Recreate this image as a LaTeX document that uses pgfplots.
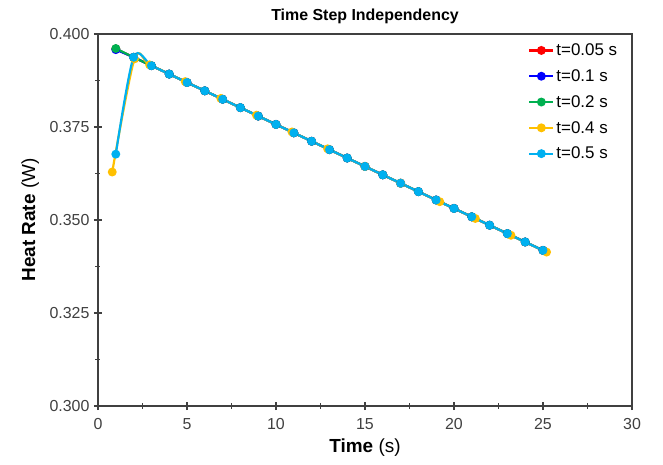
\documentclass[border=0pt]{standalone}
\usepackage{pgfplots}
\pgfplotsset{compat=1.18}
\usepackage{pgfplotstable}
\usepackage{fontspec}
\setmainfont{Liberation Sans}
\definecolor{cred}{HTML}{FF0000}
\definecolor{cblue}{HTML}{0000FF}
\definecolor{cgreen}{HTML}{00B050}
\definecolor{cyellow}{HTML}{FFC000}
\definecolor{ccyan}{HTML}{00B0F0}
\definecolor{axgray}{HTML}{404040}

\pgfplotstableread{
x y
1 0.39600
2 0.39374
3 0.39149
4 0.38923
5 0.38697
6 0.38472
7 0.38246
8 0.38020
9 0.37794
10 0.37569
11 0.37343
12 0.37117
13 0.36892
14 0.36666
15 0.36440
16 0.36214
17 0.35989
18 0.35763
19 0.35537
20 0.35312
21 0.35086
22 0.34860
23 0.34634
24 0.34409
25 0.34183
}\tred

\pgfplotstableread{
x y
1 0.39580
2 0.39374
3 0.39149
4 0.38923
5 0.38697
6 0.38472
7 0.38246
8 0.38020
9 0.37794
10 0.37569
11 0.37343
12 0.37117
13 0.36892
14 0.36666
15 0.36440
16 0.36214
17 0.35989
18 0.35763
19 0.35537
20 0.35312
21 0.35086
22 0.34860
23 0.34634
24 0.34409
25 0.34183
}\tblue

\pgfplotstableread{
x y
1 0.39610
2 0.39374
3 0.39149
4 0.38923
5 0.38697
6 0.38472
7 0.38246
8 0.38020
9 0.37794
10 0.37569
11 0.37343
12 0.37117
13 0.36892
14 0.36666
15 0.36440
16 0.36214
17 0.35989
18 0.35763
19 0.35537
20 0.35312
21 0.35086
22 0.34860
23 0.34634
24 0.34409
25 0.34183
}\tgreen

\pgfplotstableread{
x y
0.8 0.36290
2.05 0.39330
2.9 0.39171
4.9 0.38720
6.9 0.38268
8.9 0.37817
10.9 0.37366
12.9 0.36914
15.0 0.36440
17.0 0.35989
19.2 0.35492
21.2 0.35041
23.2 0.34589
25.2 0.34138
}\tyellow

\pgfplotstableread{
x y
1 0.36770
2 0.39374
3 0.39149
4 0.38923
5 0.38697
6 0.38472
7 0.38246
8 0.38020
9 0.37794
10 0.37569
11 0.37343
12 0.37117
13 0.36892
14 0.36666
15 0.36440
16 0.36214
17 0.35989
18 0.35763
19 0.35537
20 0.35312
21 0.35086
22 0.34860
23 0.34634
24 0.34409
25 0.34183
}\tcyan

\begin{document}
\begin{tikzpicture}
\begin{axis}[
  scale only axis,
  width=534bp, height=372bp,
  xmin=0, xmax=30, ymin=0.300, ymax=0.400,
  xtick={0,5,10,15,20,25,30},
  ytick={0.300,0.325,0.350,0.375,0.400},
  minor x tick num=1, minor y tick num=1,
  xtick pos=bottom, ytick pos=left,
  tick align=center,
  major tick length=8bp, minor tick length=5bp,
  axis line style={axgray, line width=1.4bp},
  every tick/.style={axgray, line width=1.2bp},
  /pgf/number format/assume math mode=true,
  yticklabel style={xshift=-1bp, /pgf/number format/fixed, /pgf/number format/fixed zerofill, /pgf/number format/precision=3},
  ticklabel style={font=\fontsize{16}{16}\selectfont, text=axgray},
  xticklabel style={yshift=-5bp},
  xlabel={\textbf{Time} (s)},
  ylabel={\textbf{Heat Rate} (W)},
  label style={font=\fontsize{19}{19}\selectfont, text=black},
  xlabel style={at={(axis description cs:0.5,-0.113)}, anchor=center},
  ylabel style={at={(axis description cs:-0.127,0.5)}, anchor=center},
  title={\textbf{Time Step Independency}},
  title style={font=\fontsize{16}{16}\selectfont, at={(axis description cs:0.5,1.0325)}, anchor=center},
  legend style={draw=none, fill=none, at={(0.982,0.985)}, anchor=north east,
    font=\fontsize{17}{17}\selectfont, row sep=8.5bp, nodes={inner xsep=2bp}},
  legend cell align=left,
  legend image code/.code={\draw[mark repeat=2,mark phase=2] plot coordinates {(0bp,0bp)(12bp,0bp)(24bp,0bp)};},
  every axis plot/.append style={line width=2.2bp, mark=*, mark size=3.3bp, smooth, tension=0.5},
]
\coordinate (bl) at (rel axis cs:0,0);
\coordinate (tr) at (rel axis cs:1,1);
\addplot[cred, mark options={fill=cred, draw=cred}] table {\tred};
\addlegendentry{t=0.05 s}
\addplot[cblue, mark options={fill=cblue, draw=cblue}] table {\tblue};
\addlegendentry{t=0.1 s}
\addplot[cgreen, mark options={fill=cgreen, draw=cgreen}] table {\tgreen};
\addlegendentry{t=0.2 s}
\addplot[cyellow, mark options={fill=cyellow, draw=cyellow}] table {\tyellow};
\addlegendentry{t=0.4 s}
\addplot[ccyan, mark options={fill=ccyan, draw=ccyan}] table {\tcyan};
\addlegendentry{t=0.5 s}
\end{axis}
\pgfresetboundingbox
\path ([shift={(-98bp,-59bp)}]bl) rectangle ([shift={(31bp,34bp)}]tr);
\end{tikzpicture}
\end{document}
